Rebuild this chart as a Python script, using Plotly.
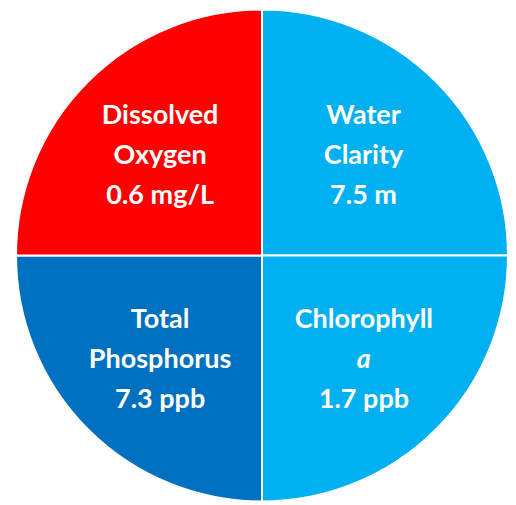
import plotly.graph_objects as go

labels = ["Water Clarity", "Chlorophyll a", "Total Phosphorus", "Dissolved Oxygen"]
values = [1, 1, 1, 1]
texts = [
    "Water<br>Clarity<br>7.5 m",
    "Chlorophyll<br><i>a</i><br>1.7 ppb",
    "Total<br>Phosphorus<br>7.3 ppb",
    "Dissolved<br>Oxygen<br>0.6 mg/L",
]
colors = ["#00B0F0", "#00B0F0", "#0070C0", "#FF0000"]

def styled(t):
    return "<br>".join(f"<span style='font-size:27px'>{line}</span>" for line in t.split("<br>"))

fig = go.Figure(go.Pie(
    labels=labels,
    values=values,
    text=[styled(t) for t in texts],
    textinfo="text",
    textposition="inside",
    insidetextorientation="horizontal",
    sort=False,
    direction="clockwise",
    rotation=0,
    marker=dict(colors=colors, line=dict(color="white", width=2)),
    textfont=dict(family="Lato", size=31, color="white", weight="bold"),
    domain=dict(x=[0.0155, 0.969], y=[0.0228, 0.997]),
    hoverinfo="skip",
))
fig.update_layout(
    width=516, height=505,
    margin=dict(l=0, r=0, t=0, b=0),
    showlegend=False,
    paper_bgcolor="white",
)
fig.write_html("out.html")
